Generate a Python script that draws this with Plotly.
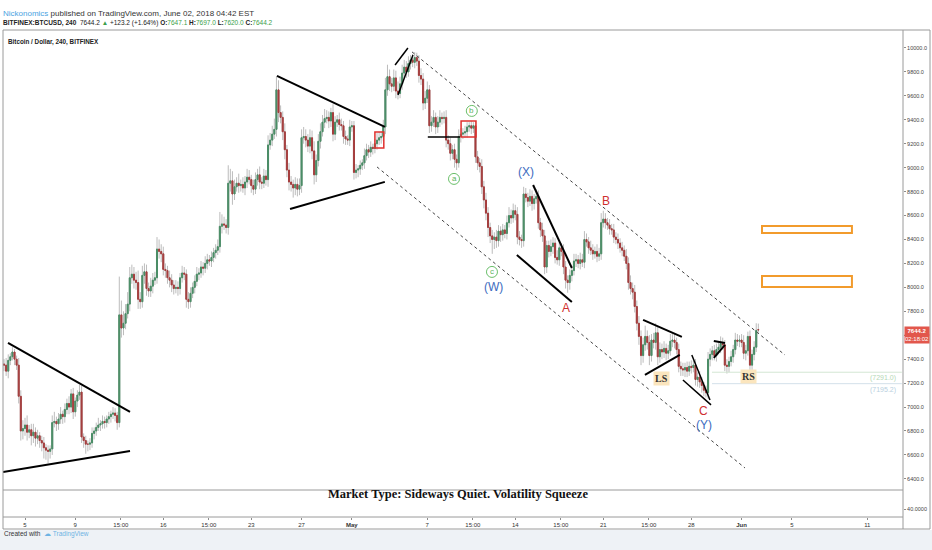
import plotly.graph_objects as go
import pandas as pd

# ---------------- data (4h candles, BITFINEX:BTCUSD) ----------------
start_time = "2018-04-03 08:00"
closes = [
7350, 7300, 7390, 7420, 7460, 7400, 7350, 7090, 6800, 6820,
6850, 6790, 6810, 6760, 6790, 6740, 6760, 6720, 6700, 6660,
6640, 6630, 6650, 6870, 6880, 6860, 6900, 6940, 6920, 6980,
7030, 7000, 7110, 6960, 7050, 7100, 7125, 6750, 6720, 6690,
6690, 6700, 6780, 6800, 6830, 6850, 6860, 6880, 6870, 6900,
6920, 6940, 6950, 6930, 6870, 7770, 7660, 7700, 7780, 7860,
8080, 8110, 8060, 8040, 7900, 7880, 8100, 8130, 7990, 7970,
8010, 8060, 8080, 8320, 8300, 8280, 8150, 8140, 8080, 8060,
8020, 7990, 8000, 7990, 8080, 8120, 8110, 7900, 7880, 7950,
8000, 8050, 8110, 8120, 8170, 8160, 8200, 8230, 8220, 8250,
8290, 8310, 8340, 8510, 8530, 8520, 8500, 8870, 8890, 8780,
8840, 8870, 8850, 8860, 8830, 8880, 8920, 8900, 8850, 8820,
8900, 8940, 8880, 8870, 8930, 8900, 9190, 9230, 9280, 9320,
9650, 9460, 9420, 9300, 9150, 8980, 8880, 8860, 8830, 8860,
8820, 8850, 9250, 9260, 9230, 9180, 9250, 9140, 8940, 9060,
9220, 9300, 9380, 9410, 9420, 9390, 9460, 9280, 9380, 9400,
9360, 9350, 9260, 9240, 9230, 9340, 9350, 8960, 8980, 8990,
9020, 9040, 9100, 9150, 9130, 9170, 9160, 9200, 9230, 9250,
9260, 9340, 9650, 9760, 9700, 9680, 9750, 9640, 9620, 9700,
9790, 9840, 9800, 9870, 9900, 9880, 9920, 9890, 9770, 9740,
9540, 9580, 9650, 9350, 9380, 9420, 9340, 9380, 9420, 9410,
9420, 9230, 9200, 9120, 9150, 9070, 9040, 9260, 9280, 9290,
9300, 9340, 9350, 9330, 9350, 9090, 9040, 9010, 8840, 8730,
8620, 8500, 8430, 8400, 8420, 8390, 8470, 8440, 8480, 8450,
8540, 8600, 8580, 8640, 8610, 8420, 8400, 8390, 8780, 8750,
8720, 8760, 8700, 8740, 8760, 8540, 8480, 8430, 8170, 8350,
8300, 8340, 8370, 8250, 8230, 8330, 8300, 8170, 8060, 8040,
8100, 8140, 8220, 8230, 8200, 8230, 8210, 8400, 8380, 8330,
8310, 8280, 8300, 8260, 8280, 8540, 8570, 8540, 8520, 8490,
8480, 8420, 8400, 8370, 8330, 8310, 8260, 8200, 8040, 7990,
7960, 7840, 7700, 7590, 7430, 7520, 7590, 7540, 7430, 7560,
7540, 7620, 7420, 7480, 7460, 7490, 7450, 7470, 7550, 7560,
7540, 7480, 7340, 7320, 7310, 7330, 7300, 7340, 7330, 7350,
7230, 7250, 7210, 7180, 7140, 7120, 7400, 7440, 7470, 7430,
7480, 7500, 7530, 7520, 7350, 7340, 7380, 7420, 7480, 7560,
7550, 7560, 7540, 7450, 7470, 7590, 7350, 7440, 7500, 7640, 7644.2,
]
first_open = 7360
last_open = 7647.1

upper_wick = [
40, 60, 50, 30, 40, 25, 30, 60, 50, 70,
60, 80, 40, 50, 70, 40, 50, 30, 40, 50,
30, 40, 30, 60, 80, 40, 50, 60, 30, 50,
40, 60, 40, 50, 30, 40, 60, 50, 30, 40,
30, 40, 50, 30, 40, 60, 30, 50, 40, 30,
40, 30, 50, 40, 30, 320, 120, 100, 80, 100,
90, 80, 60, 70, 100, 60, 80, 70, 60, 50,
70, 60, 50, 100, 80, 60, 60, 50, 40, 60,
50, 40, 60, 50, 40, 60, 50, 40, 60, 50,
40, 50, 60, 40, 50, 40, 60, 50, 40, 50,
40, 50, 60, 120, 80, 60, 50, 150, 100, 80,
60, 50, 80, 40, 60, 50, 70, 60, 40, 50,
60, 50, 70, 40, 60, 50, 80, 60, 70, 90,
110, 80, 60, 50, 70, 40, 60, 50, 40, 60,
50, 60, 70, 80, 60, 50, 70, 60, 80, 50,
60, 70, 60, 80, 60, 50, 40, 70, 50, 40,
60, 50, 40, 50, 30, 60, 40, 40, 50, 30,
40, 30, 60, 50, 40, 50, 30, 40, 60, 50,
40, 60, 100, 100, 60, 50, 70, 60, 80, 60,
70, 60, 50, 60, 40, 50, 45, 40, 50, 60,
50, 60, 70, 40, 50, 60, 40, 50, 60, 40,
50, 60, 40, 50, 40, 50, 40, 60, 50, 40,
50, 40, 30, 40, 30, 40, 50, 40, 60, 50,
60, 50, 40, 50, 40, 60, 50, 40, 50, 40,
60, 70, 50, 60, 50, 60, 50, 40, 60, 50,
40, 60, 50, 40, 60, 50, 40, 60, 50, 40,
40, 60, 50, 40, 60, 50, 40, 60, 50, 40,
50, 40, 60, 50, 40, 60, 50, 70, 50, 40,
60, 50, 40, 60, 50, 80, 70, 50, 40, 50,
40, 50, 40, 50, 40, 50, 40, 60, 50, 60,
50, 60, 50, 60, 50, 60, 90, 50, 60, 50,
60, 80, 50, 60, 50, 60, 40, 50, 60, 50,
60, 40, 50, 40, 50, 40, 50, 40, 50, 40,
50, 40, 50, 40, 30, 40, 60, 50, 40, 50,
50, 40, 60, 50, 40, 50, 40, 50, 40, 60,
50, 40, 50, 60, 50, 40, 50, 40, 50, 60, 50,
]
lower_wick = [
50, 40, 60, 40, 30, 50, 40, 60, 80, 70,
60, 70, 50, 80, 60, 70, 50, 60, 70, 90,
80, 100, 60, 50, 40, 60, 50, 40, 60, 50,
40, 60, 50, 60, 40, 50, 40, 50, 60, 80,
60, 50, 40, 50, 40, 30, 50, 40, 50, 40,
40, 50, 40, 50, 60, 40, 80, 60, 50, 40,
60, 50, 70, 60, 80, 60, 50, 70, 60, 50,
50, 60, 40, 50, 60, 70, 50, 60, 50, 60,
60, 50, 40, 60, 50, 40, 50, 70, 60, 50,
40, 50, 40, 50, 40, 60, 40, 50, 40, 50,
40, 50, 40, 50, 60, 40, 50, 60, 70, 90,
50, 40, 60, 50, 40, 60, 50, 40, 60, 50,
40, 50, 60, 50, 40, 50, 60, 40, 50, 40,
60, 80, 50, 70, 80, 60, 70, 60, 80, 60,
60, 50, 60, 50, 60, 50, 60, 70, 80, 60,
50, 60, 40, 50, 40, 60, 50, 60, 50, 40,
50, 40, 60, 50, 40, 50, 40, 60, 50, 60,
50, 40, 50, 40, 50, 40, 50, 40, 50, 40,
50, 40, 60, 50, 60, 50, 40, 60, 50, 40,
50, 40, 50, 40, 50, 40, 50, 40, 60, 50,
60, 50, 40, 60, 50, 40, 60, 50, 40, 50,
40, 60, 50, 60, 50, 70, 60, 40, 50, 40,
40, 50, 40, 50, 40, 50, 60, 50, 60, 70,
60, 80, 60, 120, 80, 60, 50, 60, 50, 40,
50, 40, 50, 40, 50, 60, 50, 60, 50, 40,
50, 40, 60, 50, 40, 50, 60, 50, 60, 50,
50, 40, 60, 50, 40, 50, 40, 60, 70, 85,
60, 50, 40, 50, 40, 50, 40, 50, 40, 50,
40, 50, 40, 50, 40, 50, 40, 50, 40, 50,
40, 50, 40, 50, 40, 50, 40, 50, 60, 50,
60, 50, 60, 70, 80, 60, 50, 60, 80, 50,
50, 60, 70, 50, 60, 50, 60, 50, 40, 50,
50, 40, 50, 60, 50, 60, 50, 40, 50, 40,
50, 60, 50, 60, 50, 40, 50, 60, 50, 40,
50, 40, 50, 40, 50, 60, 50, 40, 50, 40,
40, 50, 40, 50, 60, 40, 50, 40, 50, 40, 24,
]

tick_dates = ["2018-04-05", "2018-04-09", "2018-04-12 15:00", "2018-04-16",
              "2018-04-19 15:00", "2018-04-23", "2018-04-27", "2018-05-01",
              "2018-05-07", "2018-05-10 15:00", "2018-05-14", "2018-05-17 15:00",
              "2018-05-21", "2018-05-24 15:00", "2018-05-28", "2018-06-01",
              "2018-06-05", "2018-06-11"]
tick_text = ["5", "9", "15:00", "16", "15:00", "23", "27", "<b>May</b>", "7",
             "15:00", "14", "15:00", "21", "15:00", "28", "<b>Jun</b>", "5", "11"]

price_ticks = list(range(6400, 10001, 200))
current_price = 7644.2

# ---------------- derived OHLC ----------------
n = len(closes)
times = pd.date_range(start_time, periods=n, freq="4h")
opens = [first_open] + closes[:-1]
opens[-1] = last_open
body_hi = [max(o, c) for o, c in zip(opens, closes)]
body_lo = [min(o, c) for o, c in zip(opens, closes)]
highs = [h + w for h, w in zip(body_hi, upper_wick[:n])]
lows = [l - w for l, w in zip(body_lo, lower_wick[:n])]

W, H = 932, 550
def px(x):
    return x / W
def py(y):
    return 1 - y / H

GREEN = "#4a8d66"
RED = "#a53d3d"
WICK = "#bcbcbc"
GRID = "#8c8c8c"

fig = go.Figure()
fig.add_trace(go.Candlestick(
    x=times, open=opens, high=highs, low=lows, close=closes,
    increasing=dict(line=dict(color=WICK, width=1), fillcolor=WICK),
    decreasing=dict(line=dict(color=WICK, width=1), fillcolor=WICK),
    whiskerwidth=0, showlegend=False, hoverinfo="skip", xaxis="x", yaxis="y"))
fig.add_trace(go.Candlestick(
    x=times, open=opens, high=body_hi, low=body_lo, close=closes,
    increasing=dict(line=dict(color=GREEN, width=1), fillcolor=GREEN),
    decreasing=dict(line=dict(color=RED, width=1), fillcolor=RED),
    whiskerwidth=0, showlegend=False, xaxis="x", yaxis="y"))
fig.add_trace(go.Scatter(x=[times[0]], y=[None], xaxis="x2", yaxis="y2",
                         showlegend=False, hoverinfo="skip"))

shapes = []
def seg(x0, y0, x1, y1, color="black", width=2, dash="solid"):
    shapes.append(dict(type="line", xref="x", yref="y", x0=x0, y0=y0, x1=x1, y1=y1,
                       line=dict(color=color, width=width, dash=dash)))

# trend lines / triangles
seg("2018-04-03 15:30", 7536, "2018-04-13 08:30", 6959)
seg("2018-04-03 06:00", 6458, "2018-04-13 08:30", 6633)
seg("2018-04-25 01:00", 9766, "2018-05-03 15:00", 9340)
seg("2018-04-26 02:00", 8655, "2018-05-03 15:00", 8881)
seg("2018-05-04 10:30", 9858, "2018-05-05 11:00", 10000, width=1.5)
seg("2018-05-04 16:00", 9607, "2018-05-05 20:40", 9942, width=1.5)
seg("2018-05-07 01:00", 9256, "2018-05-09 14:30", 9256, width=1.5)
seg("2018-05-15 10:00", 8855, "2018-05-18 12:00", 8162)
seg("2018-05-14 03:00", 8271, "2018-05-18 12:00", 7878)
seg("2018-05-24 04:00", 7728, "2018-05-27 06:00", 7586)
seg("2018-05-24 07:30", 7268, "2018-05-27 02:00", 7435)
seg("2018-05-28 01:00", 7435, "2018-05-29 11:40", 7059, width=1.5)
seg("2018-05-27 08:00", 7226, "2018-05-29 13:40", 7018, width=1.5)
seg("2018-05-29 19:00", 7552, "2018-05-30 16:20", 7536)
seg("2018-05-29 19:00", 7410, "2018-05-30 16:20", 7519)
# dotted channel
seg("2018-05-05 18:50", 9967, "2018-06-04 10:50", 7435, color="#444", width=1, dash="dot")
seg("2018-05-03 00:00", 9006, "2018-06-01 06:30", 6491, color="#444", width=1, dash="dot")
# level lines
seg("2018-05-29 15:30", 7291.0, "2018-06-13 18:00", 7291.0, color="#d3e6d3", width=1)
seg("2018-05-29 15:30", 7195.2, "2018-06-13 18:00", 7195.2, color="#d3e0ea", width=1)

def rect(x0, y0, x1, y1, color, width):
    shapes.append(dict(type="rect", xref="x", yref="y", x0=x0, y0=y0, x1=x1, y1=y1,
                       line=dict(color=color, width=width), fillcolor="rgba(0,0,0,0)"))
rect("2018-05-02 20:00", 9165, "2018-05-03 13:00", 9298, "#e0302e", 1.5)
rect("2018-05-09 16:30", 9256, "2018-05-10 21:00", 9390, "#e0302e", 1.5)
rect("2018-06-02 15:00", 8454, "2018-06-09 18:40", 8513, "#f29b2c", 2)
rect("2018-06-02 15:00", 8003, "2018-06-09 18:40", 8095, "#f29b2c", 2)

minor = [("a", "2018-05-09 03:00", 8906), ("b", "2018-05-10 13:00", 9474),
         ("c", "2018-05-12 03:30", 8129)]
for t, xd, yv in minor:
    shapes.append(dict(type="circle", xref="x", yref="y", xsizemode="pixel", ysizemode="pixel",
                       xanchor=xd, yanchor=yv, x0=-5.5, x1=5.5, y0=-5.5, y1=5.5,
                       line=dict(color="#6bbf6b", width=1), fillcolor="white"))

# panel borders (paper)
bc = "#9a9a9a"
def pline(x0, y0, x1, y1, color=bc):
    shapes.append(dict(type="line", xref="paper", yref="paper", x0=px(x0), y0=py(y0),
                       x1=px(x1), y1=py(y1), line=dict(color=color, width=1)))
shapes.append(dict(type="rect", xref="paper", yref="paper", x0=0, x1=1, y0=0, y1=py(530),
                   fillcolor="#eef2f6", line=dict(width=0), layer="below"))
pline(3, 30, 930, 30)
pline(3, 30, 3, 529)
pline(930, 30, 930, 529)
pline(3, 529, 930, 529)
pline(903, 30, 903, 529)
pline(3, 490, 903, 490)
pline(3, 517, 903, 517)

ann = []
def label(text, xd, yv, color, size=11, family="Liberation Sans", **kw):
    ann.append(dict(text=text, x=xd, y=yv, xref="x", yref="y", showarrow=False,
                    font=dict(color=color, size=size, family=family), **kw))

for t, xd, yv in minor:
    label(t, xd, yv, "#5cb35c", size=8)
BLUE = "#3d6cc0"
WRED = "#cf2f2f"
label("(W)", "2018-05-12 05:30", 8003, BLUE, 12)
label("(X)", "2018-05-14 20:30", 8964, BLUE, 12)
label("(Y)", "2018-05-29 00:00", 6850, BLUE, 12)
label("A", "2018-05-18 00:40", 7828, WRED, 12)
label("B", "2018-05-21 05:00", 8722, WRED, 12)
label("C", "2018-05-29 00:00", 6967, WRED, 12)
label("<b>LS</b>", "2018-05-25 16:00", 7235, "#333", 10, "Liberation Serif",
      bgcolor="#fbe5bd", borderpad=1)
label("<b>RS</b>", "2018-06-01 14:00", 7252, "#333", 10, "Liberation Serif",
      bgcolor="#fbe5bd", borderpad=1)
ann.append(dict(text="(7291.0)", x=px(898), y=7291.0, xref="paper", yref="y", xanchor="right",
                yanchor="top", showarrow=False, font=dict(color="#b5d8b5", size=7,
                family="Liberation Sans")))
ann.append(dict(text="(7195.2)", x=px(898), y=7195.2, xref="paper", yref="y", xanchor="right",
                yanchor="top", showarrow=False, font=dict(color="#b8cfe0", size=7,
                family="Liberation Sans")))
# current price tag (covers the 7600 axis label, as in the original)
ann.append(dict(text="<b>7644.2</b>", x=px(903.5), y=py(330.5), xref="paper", yref="paper",
                xanchor="left", showarrow=False, bgcolor="#e2574c", borderpad=0, width=24,
                height=8, font=dict(color="white", size=6, family="Liberation Sans")))
ann.append(dict(text="02:18:02", x=px(903.5), y=py(339), xref="paper", yref="paper",
                xanchor="left", showarrow=False, bgcolor="#e2574c", borderpad=0, width=24,
                height=8, font=dict(color="white", size=6, family="Liberation Sans")))

# header / title / footer
ann.append(dict(text="<span style='color:#4aa3df'>Nickonomics</span> published on TradingView.com, June 02, 2018 04:42 EST",
                x=px(1), y=py(7), xref="paper", yref="paper", xanchor="left", showarrow=False,
                font=dict(color="#333", size=8, family="Liberation Sans")))
G2 = "#3aa04a"
ann.append(dict(text=("<b>BITFINEX:BTCUSD, 240</b>  7644.2 <span style='color:%s'>▲</span> +123.2 (+1.64%%) "
                      "<b>O:</b><span style='color:%s'>7647.1</span> <b>H:</b><span style='color:%s'>7697.0</span> "
                      "<b>L:</b><span style='color:%s'>7620.0</span> <b>C:</b><span style='color:%s'>7644.2</span>")
                     % (G2, G2, G2, G2, G2),
                x=px(1), y=py(17), xref="paper", yref="paper", xanchor="left", showarrow=False,
                font=dict(color="#222", size=6.5, family="Liberation Sans")))
ann.append(dict(text="<b>Bitcoin / Dollar, 240, BITFINEX</b>", x=px(6), y=py(36), xref="paper",
                yref="paper", xanchor="left", showarrow=False,
                font=dict(color="#222", size=6.3, family="Liberation Sans")))
ann.append(dict(text="<b>Market Type: Sideways Quiet. Volatility Squeeze</b>", x=px(458), y=py(503),
                xref="paper", yref="paper", showarrow=False,
                font=dict(color="#111", size=12.5, family="Liberation Serif")))
ann.append(dict(text="Created with  <span style='color:#6db3e3'>☁ TradingView</span>", x=px(2), y=py(540),
                xref="paper", yref="paper", xanchor="left", showarrow=False,
                font=dict(color="#333", size=6.5, family="Liberation Sans")))

price_text = ["" if v == 7600 else "%.1f" % v for v in price_ticks]

fig.update_layout(
    width=W, height=H, margin=dict(l=0, r=0, t=0, b=0),
    paper_bgcolor="white", plot_bgcolor="white", showlegend=False,
    shapes=shapes, annotations=ann,
    xaxis=dict(domain=[px(3), px(903)], anchor="y", type="date",
               range=["2018-04-03 06:00", "2018-06-13 20:10"], showticklabels=False,
               showgrid=False, zeroline=False, rangeslider=dict(visible=False), ticks=""),
    xaxis2=dict(domain=[px(3), px(903)], anchor="y2", matches="x", type="date",
                tickmode="array", tickvals=tick_dates, ticktext=tick_text, showgrid=False,
                zeroline=False, ticks="outside", ticklen=2, tickcolor=GRID,
                tickfont=dict(size=6, color="#333", family="Liberation Sans")),
    yaxis=dict(domain=[py(490), py(30)], anchor="x", side="right", range=[6307, 10150],
               tickmode="array", tickvals=price_ticks, ticktext=price_text,
               showgrid=False, zeroline=False, ticks="outside", ticklen=2, tickcolor=GRID,
               tickfont=dict(size=5.5, color="#444", family="Liberation Sans")),
    yaxis2=dict(domain=[py(517), py(490)], anchor="x2", side="right", range=[20, 87.5],
                tickmode="array", tickvals=[40], ticktext=["40.0000"], showgrid=False,
                zeroline=False, ticks="outside", ticklen=2, tickcolor=GRID,
                tickfont=dict(size=5.5, color="#444", family="Liberation Sans")),
)

fig.write_html("out.html", config={"displayModeBar": False},
               post_script="document.body.style.margin='0px';document.body.style.overflow='hidden';")
